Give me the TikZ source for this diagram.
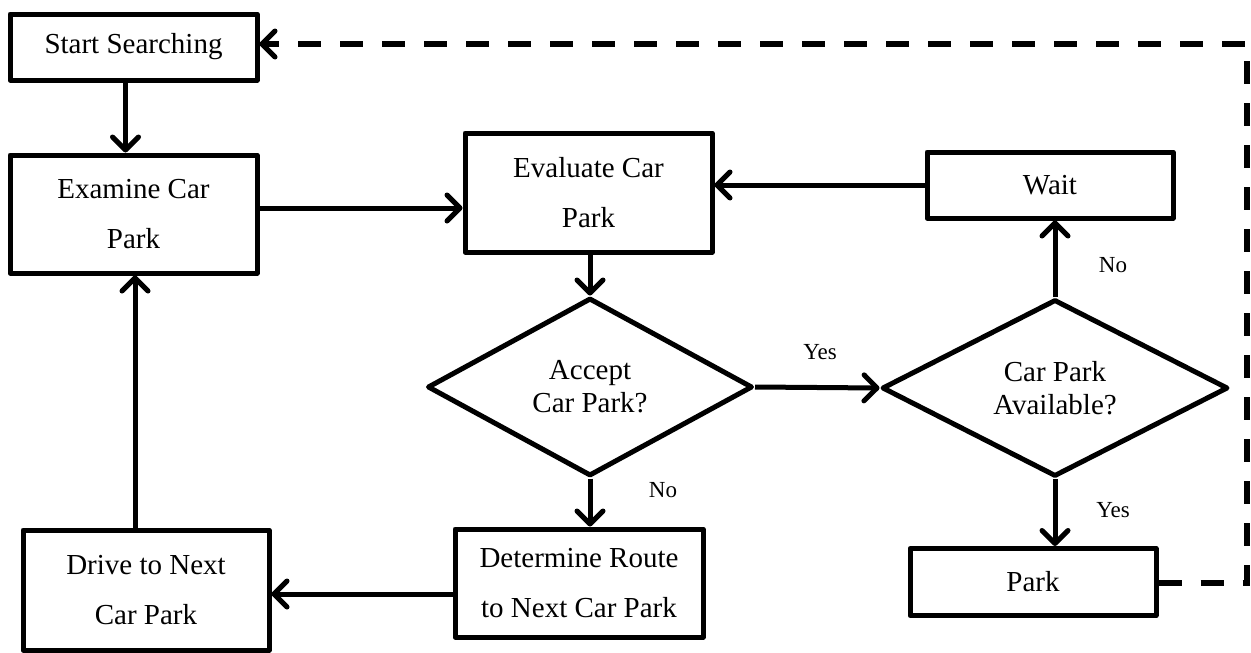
\documentclass[tikz,border=0pt]{standalone}
\usepackage{fontspec}
\setmainfont{Liberation Serif}
\usetikzlibrary{arrows.meta,shapes.geometric}
\begin{document}
\begin{tikzpicture}[x=1pt,y=-1pt,
  box/.style={draw, line width=5pt, line join=round, inner sep=0pt, align=center,
    font=\fontsize{29}{50}\selectfont},
  decision/.style={diamond, draw, line width=5pt, line join=round, inner sep=0pt,
    align=center, font=\fontsize{29}{33}\selectfont},
  tipV/.tip={Straight Barb[length=13pt,width=26pt,line width=5pt,round]},
  arr/.style={line width=5pt, -tipV},
  lbl/.style={font=\fontsize{23}{25}\selectfont, inner sep=0pt},
  loopback/.style={line width=6pt, dash pattern=on 23pt off 19pt, -tipV}
]
\useasboundingbox (0,0) rectangle (1251,653);

% process boxes
\node[box, minimum width=247pt, minimum height=66pt]  (start)    at (133.5,47)  {Start Searching};
\node[box, minimum width=247pt, minimum height=118pt] (examine)  at (133.5,214) {Examine Car\\Park};
\node[box, minimum width=247pt, minimum height=119pt] (evaluate) at (588.5,192.5) {Evaluate Car\\Park};
\node[box, minimum width=246pt, minimum height=66pt]  (wait)     at (1050,185)  {Wait};
\node[box, minimum width=248pt, minimum height=108pt] (determine) at (579,583)  {Determine Route\\to Next Car Park};
\node[box, minimum width=246pt, minimum height=120pt] (drive)    at (146,590)   {Drive to Next\\Car Park};
\node[box, minimum width=246pt, minimum height=67pt]  (park)     at (1033,582)  {Park};

% decisions
\node[decision, minimum width=325pt, minimum height=178pt] (accept) at (590,387)  {Accept\\Car Park?};
\node[decision, minimum width=346pt, minimum height=177pt] (avail)  at (1055,388) {Car Park\\Available?};

% flow
\draw[arr] ([xshift=-8pt]start.south) -- ([xshift=-8pt]start.south |- examine.north);
\draw[arr] ([yshift=6pt]examine.east) -- ([yshift=6pt]examine.east -| evaluate.west);
\draw[arr] (evaluate.south -| accept.north) -- (accept.north);
\draw[arr] (accept.east) -- (avail.west);
\draw[arr] (avail.north) -- (avail.north |- wait.south);
\draw[arr] (wait.west) -- (wait.west -| evaluate.east);
\draw[arr] (accept.south) -- (accept.south |- determine.north);
\draw[arr] ([yshift=-11pt]determine.west) -- ([yshift=-11pt]determine.west -| drive.east);
\draw[arr] ([xshift=-11pt]drive.north) -- ([xshift=-11pt]drive.north |- examine.south);
\draw[arr] (avail.south) -- (avail.south |- park.north);

% return path after parking
\coordinate (rb) at (1247,583);
\coordinate (rt) at (1247,44);
\draw[loopback, line join=miter] (park.east |- rb) -- (rb) -- (rt) -- ([yshift=3pt]start.east);

% branch labels
\node[lbl] (yes1) at (820,352)  {Yes};
\node[lbl] (no1)  at (1113,265) {No};
\node[lbl] (no2)  at (663,490)  {No};
\node[lbl] (yes2) at (1113,510) {Yes};
\end{tikzpicture}
\end{document}
